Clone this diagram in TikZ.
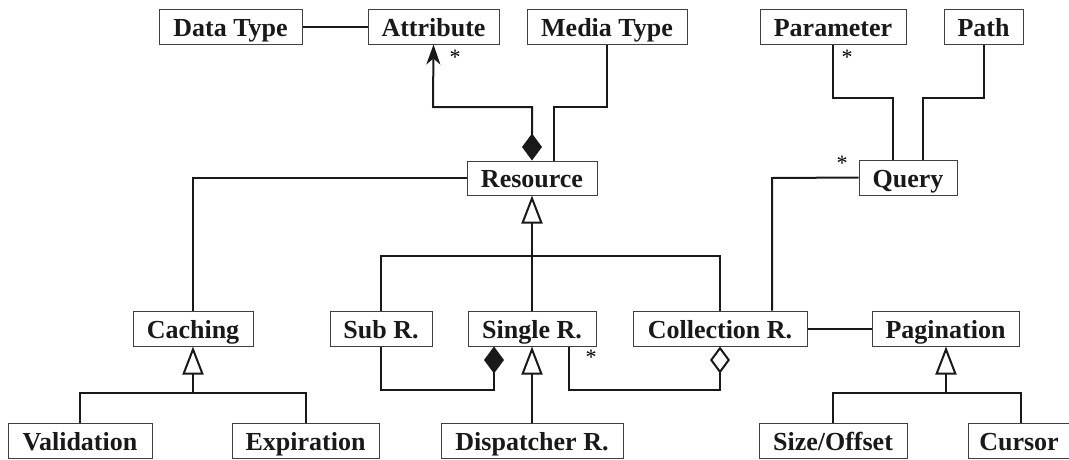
\documentclass[tikz,border=0pt]{standalone}
\usepackage{fontspec}
\setmainfont{Liberation Serif}
\usetikzlibrary{arrows.meta}
\tikzset{
  cls/.style={draw=black!75, line width=1pt, fill=white, inner sep=0pt, minimum height=35pt,
    text height=22pt, text depth=3pt,
    font=\fontsize{26}{26}\selectfont\bfseries, text=black!90},
  conn/.style={line width=2pt, black!90, line join=miter},
  gen/.style={conn, -{Triangle[open, length=28pt, width=21pt, fill=white]}},
  comp/.style={conn, {Diamond[length=27pt, width=20pt]}-},
  aggr/.style={conn, {Diamond[open, length=27pt, width=20pt, fill=white]}-},
  mult/.style={font=\fontsize{22}{22}\selectfont, inner sep=0pt, anchor=north}
}
\begin{document}
\begin{tikzpicture}[x=1pt,y=-1pt]
\useasboundingbox (0,0) rectangle (1069,459);
% classes
\node[cls, minimum width=143pt] (datatype) at (230.5,26.5) {Data Type};
\node[cls, minimum width=131pt] (attribute) at (433.5,26.5) {Attribute};
\node[cls, minimum width=160pt] (mediatype) at (607,26.5) {Media Type};
\node[cls, minimum width=146pt] (parameter) at (833,26.5) {Parameter};
\node[cls, minimum width=79pt] (path) at (983.5,26.5) {Path};
\node[cls, minimum width=130pt, minimum height=34pt] (resource) at (532,178) {Resource};
\node[cls, minimum width=98pt] (query) at (908,177.5) {Query};
\node[cls, minimum width=120pt] (caching) at (193,328.5) {Caching};
\node[cls, minimum width=102pt] (subr) at (381,328.5) {Sub R.};
\node[cls, minimum width=128pt] (singler) at (532,328.5) {Single R.};
\node[cls, minimum width=174pt] (collr) at (720,328.5) {Collection R.};
\node[cls, minimum width=147pt] (pagination) at (945.5,328.5) {Pagination};
\node[cls, minimum width=144pt] (validation) at (80,440.5) {Validation};
\node[cls, minimum width=147pt] (expiration) at (305.5,440.5) {Expiration};
\node[cls, minimum width=182pt] (dispatcher) at (532,440.5) {Dispatcher R.};
\node[cls, minimum width=148pt] (sizeoffset) at (833,440.5) {Size/Offset};
\node[cls, minimum width=102pt] (cursor) at (1019,440.5) {Cursor};
% helper coordinates
\coordinate (a1) at (433,107);
\coordinate (m1) at (607,107);
\coordinate (m2) at (554,107);
\coordinate (rh) at (532,256);
\coordinate (p1) at (893,98);
\coordinate (q1) at (923,98);
\coordinate (ql) at (772,178);
\coordinate (ch) at (193,393);
\coordinate (ph) at (946,393);
\coordinate (s1) at (494,390);
\coordinate (s2) at (569,390);
% connectors
\draw[conn] (datatype.east) -- (attribute.west);
\draw[conn, {Diamond[length=27pt, width=20pt]}-{Stealth[length=20pt, width=14pt, inset=6pt]}] (resource.north) |- (a1) -- (attribute.south);
\draw[conn] (mediatype.south) -- (m1) -- (m2) -- (m2 |- resource.north);
\draw[conn] (resource.west) -| (caching.north);
\draw[gen] (singler.north) -- (resource.south);
\draw[conn] (subr.north) |- (rh) -| (collr.north);
\draw[conn] (parameter.south) |- (p1) -- (p1 |- query.north);
\draw[conn] (path.south) |- (q1) -- (q1 |- query.north);
\draw[conn] (query.west) -- (ql) -- (ql |- collr.north);
\draw[conn] (collr.east) -- (pagination.west);
\draw[comp] (s1 |- singler.south) -- (s1) -| (subr.south);
\draw[aggr] (collr.south) -- (collr.south |- s2) -- (s2) -- (s2 |- singler.south);
\draw[gen] (dispatcher.north) -- (singler.south);
\draw[gen] (ch) -- (caching.south);
\draw[conn] (validation.north) |- (ch) -| (expiration.north);
\draw[gen] (ph) -- (pagination.south -| ph);
\draw[conn] (sizeoffset.north) |- (ph) -| ([xshift=2pt]cursor.north);
% multiplicities
\node[mult] (m_attr) at (455,50) {*};
\node[mult] (m_param) at (847,50) {*};
\node[mult] (m_query) at (842,156) {*};
\node[mult] (m_single) at (591,350) {*};
\end{tikzpicture}
\end{document}
